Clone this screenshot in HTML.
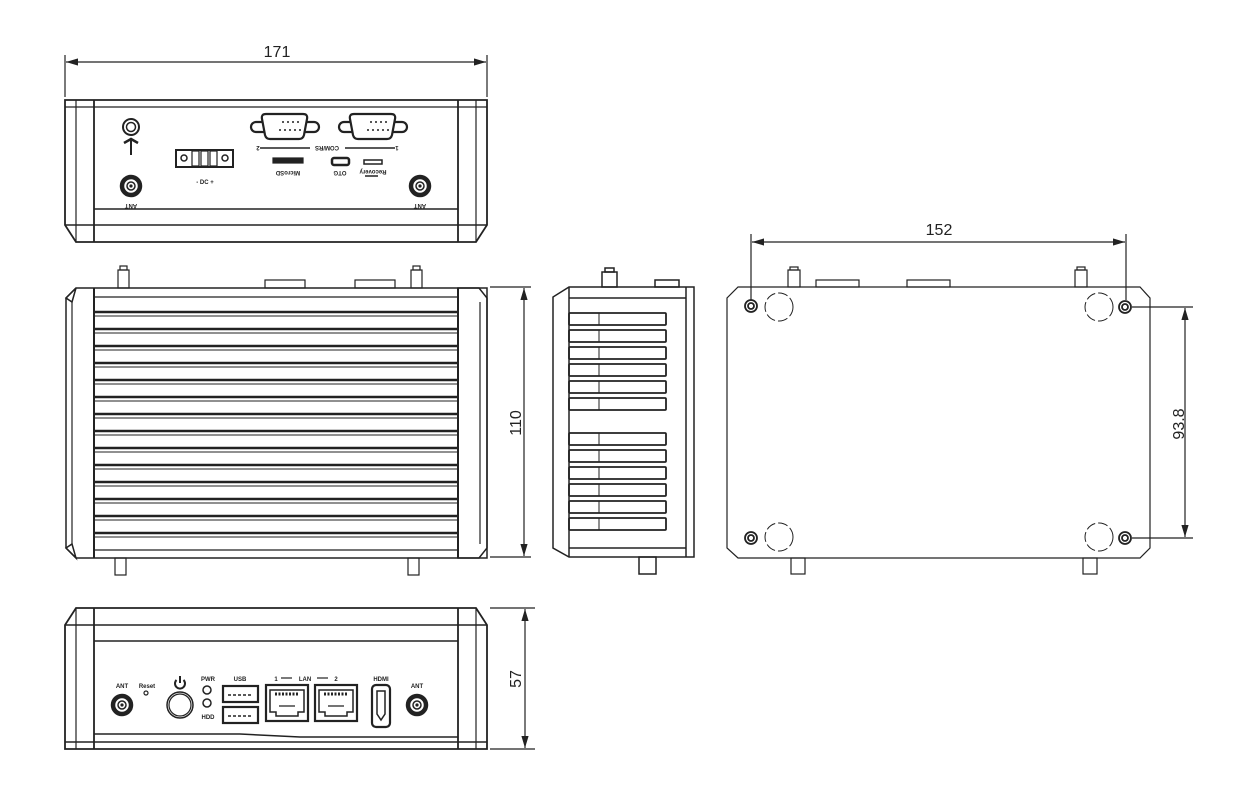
<!DOCTYPE html>
<html><head><meta charset="utf-8"><style>html,body{margin:0;padding:0;background:#fff}svg{display:block}</style></head><body>
<svg width="1241" height="806" viewBox="0 0 1241 806" xmlns="http://www.w3.org/2000/svg" font-family="Liberation Sans, sans-serif">
<defs>
<marker id="a" viewBox="0 0 10 6" refX="10" refY="3" markerWidth="10" markerHeight="6" orient="auto-start-reverse"><path d="M0,0 L10,3 L0,6 z" fill="#222"/></marker>
</defs>
<g stroke="#222" fill="none" stroke-width="1.2">
<line x1="65" y1="55" x2="65" y2="97"/><line x1="487" y1="55" x2="487" y2="97"/>
<line x1="66" y1="62" x2="486" y2="62" marker-start="url(#a)" marker-end="url(#a)"/>
<path d="M65,100 H487 V225 L476,242 H76 L65,225 Z" stroke-width="1.8"/>
<line x1="65" y1="107" x2="487" y2="107"/>
<line x1="76" y1="100" x2="76" y2="242"/><line x1="94" y1="100" x2="94" y2="242" stroke-width="1.8"/>
<line x1="476" y1="100" x2="476" y2="242"/><line x1="458" y1="100" x2="458" y2="242" stroke-width="1.8"/>
<line x1="94" y1="209" x2="458" y2="209" stroke-width="1.5"/>
<line x1="65" y1="225" x2="487" y2="225" stroke-width="1.5"/>
<circle cx="131" cy="127" r="8" stroke-width="2"/><circle cx="131" cy="127" r="4.5" stroke-width="1.5"/>
<path d="M124,143 L131,139 L138,143" stroke-width="2.5"/><line x1="131" y1="140" x2="131" y2="155" stroke-width="2"/>
<rect x="176" y="150" width="57" height="17" stroke-width="2"/>
<circle cx="184" cy="158" r="3" stroke-width="1.5"/><circle cx="225" cy="158" r="3" stroke-width="1.5"/>
<rect x="192" y="151" width="7" height="15"/><rect x="201" y="151" width="7" height="15"/><rect x="210" y="151" width="7" height="15"/>
<g id="db9" stroke-width="2.2"><path d="M266,114 H303 Q308,114 307,119 L304,135 Q303,139 299,139 H270 Q266,139 265,135 L262,119 Q261,114 266,114 Z"/><path d="M262,122 H256 A5,5 0 0 0 256,132 H264"/><path d="M307,122 H314 A5,5 0 0 1 314,132 H305"/></g>
<use href="#db9" x="88"/>
<line x1="260" y1="148" x2="310" y2="148" stroke-width="1.5"/><line x1="345" y1="148" x2="395" y2="148" stroke-width="1.5"/>
<rect x="273" y="158" width="30" height="5" fill="#222"/>
<rect x="332" y="158" width="17" height="7" rx="2" stroke-width="2.5"/>
<rect x="364" y="160" width="18" height="4" stroke-width="1.5"/>
<line x1="365" y1="176" x2="378" y2="176" stroke-width="1.5"/>
</g>
<g id="coaxA"><circle cx="131" cy="186" r="9" fill="none" stroke="#222" stroke-width="4.5"/><circle cx="131" cy="186" r="4" fill="none" stroke="#222" stroke-width="1.5"/><circle cx="131" cy="186" r="1.6" fill="#222"/></g>
<use href="#coaxA" x="289"/>
<use href="#coaxA" x="-9" y="519"/>
<use href="#coaxA" x="286" y="519"/>
<g fill="#222">
<circle cx="283" cy="122" r="1"/><circle cx="288" cy="122" r="1"/><circle cx="293" cy="122" r="1"/><circle cx="298" cy="122" r="1"/>
<circle cx="280" cy="130" r="1"/><circle cx="285" cy="130" r="1"/><circle cx="290" cy="130" r="1"/><circle cx="295" cy="130" r="1"/><circle cx="300" cy="130" r="1"/>
<circle cx="371" cy="122" r="1"/><circle cx="376" cy="122" r="1"/><circle cx="381" cy="122" r="1"/><circle cx="386" cy="122" r="1"/>
<circle cx="368" cy="130" r="1"/><circle cx="373" cy="130" r="1"/><circle cx="378" cy="130" r="1"/><circle cx="383" cy="130" r="1"/><circle cx="388" cy="130" r="1"/>
</g>
<g font-size="6" font-weight="bold" text-anchor="middle" fill="#222">
<text transform="translate(131,204) rotate(180)">ANT</text>
<text transform="translate(420,204) rotate(180)">ANT</text>
<text x="205" y="184">- DC +</text>
<text transform="translate(327,146) rotate(180)">COM/RS</text>
<text transform="translate(258,146) rotate(180)">2</text>
<text transform="translate(397,146) rotate(180)">1</text>
<text transform="translate(288,171) rotate(180)">MicroSD</text>
<text transform="translate(340,171) rotate(180)">OTG</text>
<text transform="translate(373,170) rotate(180)">Recovery</text>
</g>
<text x="277" y="57" font-size="16" text-anchor="middle" fill="#222">171</text>

<g stroke="#222" fill="none" stroke-width="1.2">
<rect x="118" y="270" width="11" height="18"/><rect x="120" y="266" width="7" height="4"/>
<rect x="411" y="270" width="11" height="18"/><rect x="413" y="266" width="7" height="4"/>
<rect x="265" y="280" width="40" height="8"/><rect x="355" y="280" width="40" height="8"/>
<rect x="115" y="558" width="11" height="17"/><rect x="408" y="558" width="11" height="17"/>
<path d="M76,288 H487 V558 H76 L66,548 V298 Z" stroke-width="1.5"/>
<path d="M76,288 L66,298 L72,302 L76,288 M76,558 L66,548 L72,544 Z" stroke-width="1.5"/>
<line x1="72" y1="302" x2="72" y2="544"/>
<path d="M94,288 V558" stroke-width="2"/>
<path d="M458,288 H479 L487,298 V548 L479,558 H458 Z" stroke-width="1.5"/>
<line x1="480" y1="302" x2="480" y2="544"/>
<path d="M458,288 V558" stroke-width="2"/>
<line x1="94" y1="297" x2="458" y2="297"/>
<line x1="94" y1="550" x2="458" y2="550"/>
</g>
<g stroke="#222" stroke-width="2.6">
<line x1="94" y1="312" x2="458" y2="312"/><line x1="94" y1="329" x2="458" y2="329"/><line x1="94" y1="346" x2="458" y2="346"/><line x1="94" y1="363" x2="458" y2="363"/><line x1="94" y1="380" x2="458" y2="380"/><line x1="94" y1="397" x2="458" y2="397"/><line x1="94" y1="414" x2="458" y2="414"/><line x1="94" y1="431" x2="458" y2="431"/><line x1="94" y1="448" x2="458" y2="448"/><line x1="94" y1="465" x2="458" y2="465"/><line x1="94" y1="482" x2="458" y2="482"/><line x1="94" y1="499" x2="458" y2="499"/><line x1="94" y1="516" x2="458" y2="516"/><line x1="94" y1="533" x2="458" y2="533"/>
</g>
<g stroke="#222" stroke-width="1">
<line x1="94" y1="316" x2="458" y2="316"/><line x1="94" y1="333" x2="458" y2="333"/><line x1="94" y1="350" x2="458" y2="350"/><line x1="94" y1="367" x2="458" y2="367"/><line x1="94" y1="384" x2="458" y2="384"/><line x1="94" y1="401" x2="458" y2="401"/><line x1="94" y1="418" x2="458" y2="418"/><line x1="94" y1="435" x2="458" y2="435"/><line x1="94" y1="452" x2="458" y2="452"/><line x1="94" y1="469" x2="458" y2="469"/><line x1="94" y1="486" x2="458" y2="486"/><line x1="94" y1="503" x2="458" y2="503"/><line x1="94" y1="520" x2="458" y2="520"/><line x1="94" y1="537" x2="458" y2="537"/>
</g>
<g stroke="#222" fill="none" stroke-width="1.2">
<line x1="490" y1="287" x2="531" y2="287"/><line x1="490" y1="557" x2="531" y2="557"/>
<line x1="524" y1="288" x2="524" y2="556" marker-start="url(#a)" marker-end="url(#a)"/>
</g>
<text transform="translate(521,423) rotate(-90)" font-size="16" text-anchor="middle" fill="#222">110</text>

<g stroke="#222" fill="none" stroke-width="1.5">
<rect x="602" y="272" width="15" height="15"/><rect x="605" y="268" width="9" height="4"/>
<rect x="655" y="280" width="24" height="7"/>
<rect x="639" y="557" width="17" height="17"/>
<path d="M569,287 H694 V557 H569 L553,548 V297 Z"/>
<line x1="569" y1="287" x2="569" y2="557"/>
<line x1="686" y1="287" x2="686" y2="557"/>
<line x1="569" y1="298" x2="686" y2="298"/><line x1="569" y1="548" x2="686" y2="548"/>
<g stroke-width="1.8">
<rect x="569" y="313" width="97" height="12" rx="1"/><rect x="569" y="330" width="97" height="12" rx="1"/><rect x="569" y="347" width="97" height="12" rx="1"/><rect x="569" y="364" width="97" height="12" rx="1"/><rect x="569" y="381" width="97" height="12" rx="1"/><rect x="569" y="398" width="97" height="12" rx="1"/>
<rect x="569" y="433" width="97" height="12" rx="1"/><rect x="569" y="450" width="97" height="12" rx="1"/><rect x="569" y="467" width="97" height="12" rx="1"/><rect x="569" y="484" width="97" height="12" rx="1"/><rect x="569" y="501" width="97" height="12" rx="1"/><rect x="569" y="518" width="97" height="12" rx="1"/>
</g>
<path d="M599,313 V325 M599,330 V342 M599,347 V359 M599,364 V376 M599,381 V393 M599,398 V410 M599,433 V445 M599,450 V462 M599,467 V479 M599,484 V496 M599,501 V513 M599,518 V530" stroke-width="1"/>
</g>

<g stroke="#222" fill="none" stroke-width="1.2">
<rect x="788" y="270" width="12" height="17"/><rect x="790" y="267" width="8" height="3"/>
<rect x="1075" y="270" width="12" height="17"/><rect x="1077" y="267" width="8" height="3"/>
<rect x="816" y="280" width="43" height="7"/><rect x="907" y="280" width="43" height="7"/>
<rect x="791" y="558" width="14" height="16"/><rect x="1083" y="558" width="14" height="16"/>
<path d="M738,287 H1140 L1150,298 V548 L1140,558 H738 L727,548 V298 Z"/>
<g stroke-width="1" stroke-dasharray="10,3">
<circle cx="779" cy="307" r="14"/><circle cx="1099" cy="307" r="14"/><circle cx="779" cy="537" r="14"/><circle cx="1099" cy="537" r="14"/>
</g>
<g stroke-width="1.8">
<circle cx="751" cy="306" r="6"/><circle cx="751" cy="306" r="3"/>
<circle cx="1125" cy="307" r="6"/><circle cx="1125" cy="307" r="3"/>
<circle cx="751" cy="538" r="6"/><circle cx="751" cy="538" r="3"/>
<circle cx="1125" cy="538" r="6"/><circle cx="1125" cy="538" r="3"/>
</g>
<line x1="751" y1="234" x2="751" y2="300"/><line x1="1126" y1="234" x2="1126" y2="300"/>
<line x1="752" y1="242" x2="1125" y2="242" marker-start="url(#a)" marker-end="url(#a)"/>
<line x1="1132" y1="307" x2="1193" y2="307"/><line x1="1132" y1="538" x2="1193" y2="538"/>
<line x1="1185" y1="308" x2="1185" y2="537" marker-start="url(#a)" marker-end="url(#a)"/>
</g>
<text x="939" y="235" font-size="16" text-anchor="middle" fill="#222">152</text>
<text transform="translate(1184,424) rotate(-90)" font-size="16" text-anchor="middle" fill="#222">93.8</text>

<g stroke="#222" fill="none" stroke-width="1.2">
<path d="M76,608 H476 L487,625 V749 H65 V625 Z" stroke-width="1.8"/>
<line x1="65" y1="625" x2="487" y2="625" stroke-width="1.5"/>
<line x1="94" y1="641" x2="458" y2="641" stroke-width="1.5"/>
<line x1="76" y1="608" x2="76" y2="749"/><line x1="94" y1="608" x2="94" y2="749" stroke-width="1.8"/>
<line x1="476" y1="608" x2="476" y2="749"/><line x1="458" y1="608" x2="458" y2="749" stroke-width="1.8"/>
<line x1="65" y1="742" x2="487" y2="742" stroke-width="1.5"/>
<path d="M94,734 H240 L300,737 H458" stroke-width="1.5"/>
<circle cx="146" cy="693" r="2"/>
<circle cx="180" cy="705" r="13" stroke-width="1.5"/><circle cx="180" cy="705" r="11"/>
<path d="M176.5,680 A5,5 0 1 0 183.5,680" stroke-width="2"/><line x1="180" y1="676" x2="180" y2="683" stroke-width="2"/>
<circle cx="207" cy="690" r="4" stroke-width="1.5"/><circle cx="207" cy="703" r="4" stroke-width="1.5"/>
<rect x="223" y="686" width="35" height="16" stroke-width="2.2"/><rect x="223" y="707" width="35" height="16" stroke-width="2.2"/>
<path d="M228,695 H253 M228,716 H253" stroke-width="1.5" stroke-dasharray="3,2"/>
<rect x="266" y="685" width="42" height="36" stroke-width="2.2"/><rect x="315" y="685" width="42" height="36" stroke-width="2.2"/>
<path d="M270,690 H304 V712 H298 V716 H276 V712 H270 Z M319,690 H353 V712 H347 V716 H325 V712 H319 Z" stroke-width="1.5"/>
<path d="M275,694 H299 M324,694 H348" stroke-width="3" stroke-dasharray="2,1.5"/>
<path d="M279,706 H295 M328,706 H344"/>
<line x1="281" y1="678" x2="292" y2="678"/><line x1="317" y1="678" x2="328" y2="678"/>
<rect x="372" y="685" width="18" height="42" rx="4" stroke-width="2.2"/>
<path d="M377,691 H385 V714 L381,720 L377,714 Z" stroke-width="1.5"/>
<line x1="490" y1="608" x2="535" y2="608"/><line x1="490" y1="749" x2="535" y2="749"/>
<line x1="525" y1="609" x2="525" y2="748" marker-start="url(#a)" marker-end="url(#a)"/>
</g>
<g font-size="6" font-weight="bold" text-anchor="middle" fill="#222">
<text x="122" y="688">ANT</text><text x="147" y="688">Reset</text>
<text x="208" y="681">PWR</text><text x="208" y="719">HDD</text>
<text x="240" y="681">USB</text>
<text x="276" y="681">1</text><text x="305" y="681">LAN</text><text x="336" y="681">2</text>
<text x="381" y="681">HDMI</text><text x="417" y="688">ANT</text>
</g>
<text transform="translate(521,679) rotate(-90)" font-size="16" text-anchor="middle" fill="#222">57</text>
</svg>
</body></html>
